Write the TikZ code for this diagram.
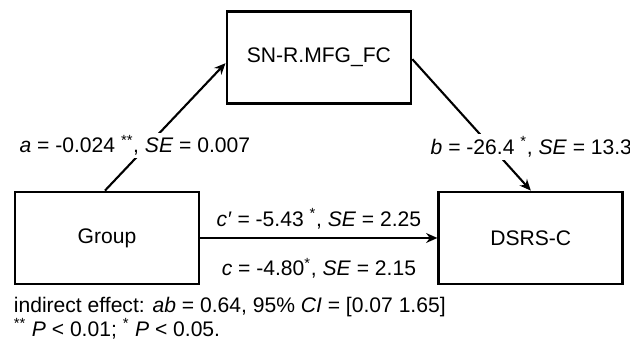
\documentclass[tikz,border=0pt]{standalone}
\usepackage{fontspec}
\setmainfont{Liberation Sans}
\usetikzlibrary{arrows.meta, positioning, calc}

\begin{document}
\begin{tikzpicture}[node distance=5.925cm, font=\fontsize{15}{15}\selectfont]
        \tikzstyle{box} = [rectangle, minimum width=4.6cm, minimum height=2.3cm, text centered, draw=black, line width=2pt]
        \tikzstyle{arrow} = [->, >={Stealth[length=8pt, width=7pt]}, line width=1.5pt]
        \tikzstyle{coef} = [fill=white, inner sep=2pt]

        \useasboundingbox (-2.675,-2.55) rectangle (13.075,5.95);

        % Nodes
        \node (group) [box] {Group};
        \node (dsrs) [box, right=of group] {DSRS-C};
        \node (mfg) [box, above=2.15cm of $(group.north)!0.5!(dsrs.north)$] {SN-R.MFG\_FC};

        % Paths
        \draw [arrow] ([xshift=-0.05cm]group.north) -- node[coef, pos=0.354, xshift=-0.32cm] {\textit{a} = -0.024 \textsuperscript{**}, \textit{SE} = 0.007} ([yshift=-0.15cm]mfg.west);
        \draw [arrow] ([yshift=-0.05cm]mfg.east) -- node[coef, pos=0.667, xshift=1.0cm] {\textit{b} = -26.4 \textsuperscript{*}, \textit{SE} = 13.3} (dsrs.north);
        \draw [arrow] (group) -- node[above=0.2cm, inner sep=0pt] {\textit{c′} = -5.43 \textsuperscript{*}, \textit{SE} = 2.25} node[below=0.47cm, inner sep=0pt] {\textit{c} = -4.80\textsuperscript{*}, \textit{SE} = 2.15} (dsrs);

        % Note below
        \node [below=0.3cm of group.south west, anchor=north west, align=left, inner sep=0pt] {indirect effect: \textit{ab} = 0.64, 95\% \textit{CI} = [0.07 1.65]\\\textsuperscript{**} \textit{P} < 0.01; \textsuperscript{*} \textit{P} < 0.05.};
    \end{tikzpicture}
\end{document}
